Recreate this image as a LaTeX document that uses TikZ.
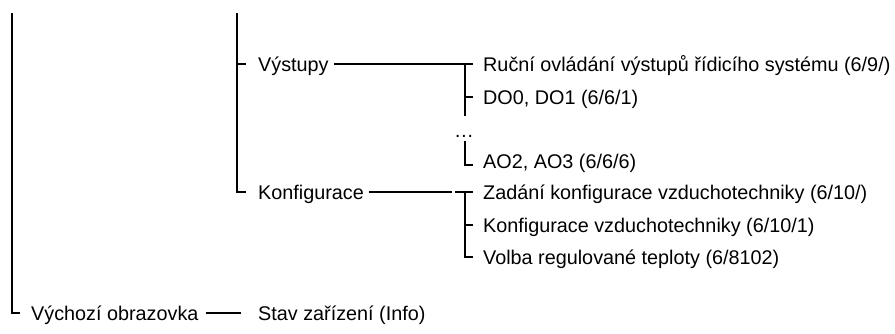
\documentclass[tikz,border=0pt]{standalone}
\usepackage{fontspec}
\setmainfont{Liberation Sans}
\usetikzlibrary{positioning}

\begin{document}
\begin{tikzpicture}[x=1pt,y=-1pt,
    lbl/.style={anchor=west, inner sep=0pt, text height=18pt, text depth=4pt,
      font=\fontsize{19.8}{24}\selectfont},
    branch/.style={line width=1.7pt}]
  \useasboundingbox (0,0) rectangle (895,333);
  % top level
  \coordinate (topa) at (12,13);
  \node[lbl] (vychozi) at (31,313) {Výchozí obrazovka};
  \node[lbl] (stav) at (258,313) {Stav zařízení (Info)};
  \draw[branch] (topa) |- ([xshift=-11pt]vychozi.west);
  \draw[branch] ([xshift=7pt]vychozi.east) -- ([xshift=-17pt]stav.west);
  % second level
  \coordinate (topb) at (237,13);
  \node[lbl] (vystupy) at (258,64) {Výstupy};
  \node[lbl] (konfig) at (258,192) {Konfigurace};
  \draw[branch] (topb) |- ([xshift=-12pt]konfig.west);
  \draw[branch] (topb |- vystupy.west) -- ([xshift=-12pt]vystupy.west);
  % vystupy
  \node[lbl] (rucni) at (483,64) {Ruční ovládání výstupů řídicího systému (6/9/)};
  \node[lbl] (dout) at (483,97) {DO0, DO1 (6/6/1)};
  \node[anchor=base, inner sep=0pt, font=\fontsize{19.8}{24}\selectfont] (dots) at (464,137) {…};
  \node[lbl] (aout) at (483,161) {AO2, AO3 (6/6/6)};
  \coordinate (vyend) at (465,116);
  \coordinate (aotop) at (465,141);
  \draw[branch] ([xshift=5pt]vystupy.east) -- ([xshift=-10pt]rucni.west);
  \draw[branch] (vyend |- rucni.west) -- (vyend);
  \draw[branch] (vyend |- dout.west) -- ([xshift=-10pt]dout.west);
  \draw[branch] (aotop) |- ([xshift=-10pt,yshift=-4pt]aout.west);
  % konfigurace
  \node[lbl] (zadani) at (483,192) {Zadání konfigurace vzduchotechniky (6/10/)};
  \node[lbl] (konfvzt) at (483,225) {Konfigurace vzduchotechniky (6/10/1)};
  \node[lbl] (volba) at (483,257) {Volba regulované teploty (6/8102)};
  \coordinate (kj) at (465,192);
  \draw[branch] ([xshift=5pt]konfig.east) -- ([xshift=-13pt]kj);
  \draw[branch] ([xshift=-10pt]kj) -- ([xshift=-10pt]zadani.west);
  \draw[branch] (kj) |- ([xshift=-10pt]volba.west);
  \draw[branch] (kj |- konfvzt.west) -- ([xshift=-10pt]konfvzt.west);
\end{tikzpicture}
\end{document}
